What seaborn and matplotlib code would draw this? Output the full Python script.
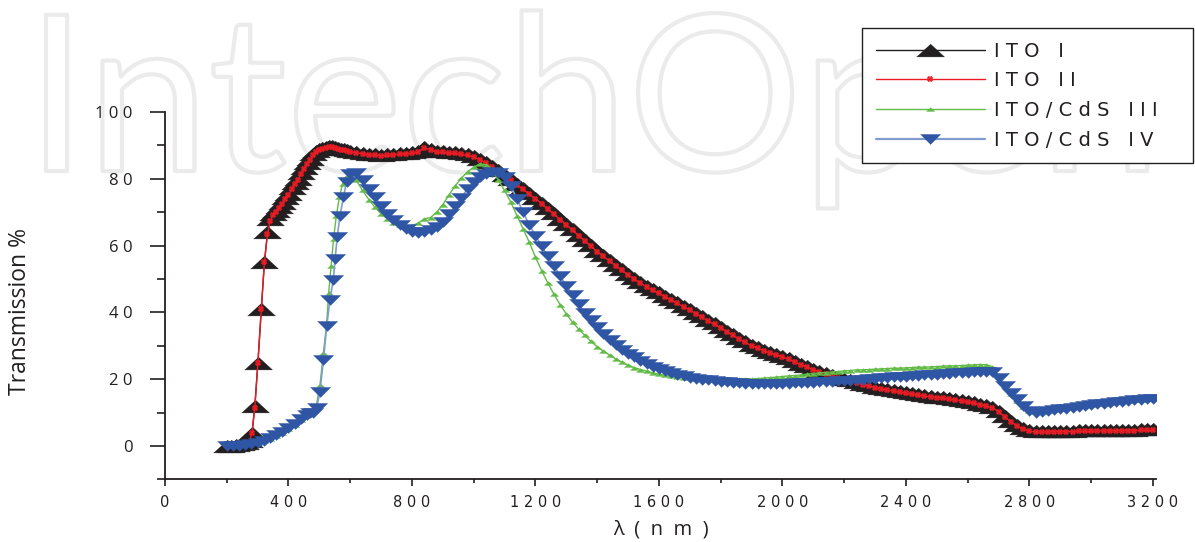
import numpy as np
import matplotlib
matplotlib.use("Agg")
import matplotlib.pyplot as plt
import matplotlib.patheffects as pe
from matplotlib.lines import Line2D
from matplotlib.ticker import MultipleLocator
import seaborn as sns

# ---- data: wavelength (nm) / transmission (%) ----
# common sampling from 600 nm upward
wl_grid = [600, 620, 640, 660, 680, 700, 720, 740, 760, 780, 800, 820, 840, 860, 880, 900, 920,
           940, 960, 980, 1000, 1020, 1040, 1060, 1080, 1100, 1120, 1140, 1160, 1180, 1200,
           1220, 1240, 1260, 1280, 1300, 1320, 1340, 1360, 1380, 1400, 1420, 1440, 1460, 1480,
           1500, 1520, 1540, 1560, 1580, 1600, 1620, 1640, 1660, 1680, 1700, 1720, 1740, 1760,
           1780, 1800, 1820, 1840, 1860, 1880, 1900, 1920, 1940, 1960, 1980, 2000, 2020, 2040,
           2060, 2080, 2100, 2120, 2140, 2160, 2180, 2200, 2220, 2240, 2260, 2280, 2300, 2320,
           2340, 2360, 2380, 2400, 2420, 2440, 2460, 2480, 2500, 2520, 2540, 2560, 2580, 2600,
           2620, 2640, 2660, 2680, 2700, 2720, 2740, 2760, 2780, 2800, 2820, 2840, 2860, 2880,
           2900, 2920, 2940, 2960, 2980, 3000, 3020, 3040, 3060, 3080, 3100, 3120, 3140, 3160,
           3180, 3200]

# ITO I
wl_ito1_uv = [200, 215, 230, 245, 260, 272, 282, 291, 301, 312, 322, 332, 341, 350, 360, 370,
              380, 390, 400, 410, 420, 430, 440, 450, 460, 470, 480, 490, 500, 510, 520, 530,
              540, 550, 560, 570, 580, 590]
t_ito1_uv = [0, 0, 0.3, 0.5, 0.8, 1.5, 4, 12, 25, 41, 55, 64, 68, 69.5, 70.5, 71.7, 72.8, 74.2,
             75.5, 77.2, 78.6, 80, 81.6, 83.2, 84.7, 86, 87.3, 88.2, 88.8, 89.3, 89.6, 89.8,
             89.8, 89.6, 89.3, 89, 88.8, 88.6]
t_ito1 = [88.4, 88.1, 87.8, 87.5, 87.3, 87.2, 87.3, 87.5, 87.7, 87.8, 87.9, 88.3, 89.6, 89.0,
          88.3, 88.2, 88.0, 87.9, 87.6, 87.3, 86.8, 86.0, 85.0, 83.8, 82.5, 81.0, 79.9, 78.5,
          77.1, 75.7, 74.4, 72.8, 71.2, 69.7, 68.1, 66.5, 64.9, 63.3, 61.7, 60.1, 58.5, 57.1,
          55.7, 54.3, 52.9, 51.5, 50.3, 49.1, 47.9, 46.9, 46.0, 45.0, 44.0, 43.0, 42.0, 41.0,
          39.9, 38.8, 37.7, 36.7, 35.6, 34.5, 33.4, 32.3, 31.3, 30.3, 29.5, 28.8, 28.2, 27.6,
          27.0, 26.2, 25.4, 24.6, 23.9, 23.2, 22.5, 21.9, 21.3, 20.7, 20.2, 19.7, 19.2, 18.7,
          18.3, 17.8, 17.4, 17.1, 16.7, 16.4, 16.1, 15.8, 15.5, 15.3, 15.0, 14.8, 14.6, 14.3,
          14.1, 13.8, 13.5, 13.1, 12.7, 12.3, 11.8, 10.6, 9.0, 7.6, 6.3, 5.3, 4.7, 4.5, 4.5,
          4.5, 4.6, 4.6, 4.6, 4.6, 4.7, 4.7, 4.7, 4.8, 4.8, 4.8, 4.9, 4.9, 4.9, 4.9, 5.0, 5.0,
          5.0]

# ITO II
wl_ito2_uv = [265, 272, 282, 291, 301, 312, 322, 332, 341, 350, 360, 370, 380, 390, 400, 410,
              420, 430, 440, 450, 460, 470, 480, 490, 500, 510, 520, 530, 540, 550, 560, 570,
              580, 590]
t_ito2_uv = [0.5, 1, 4, 11.5, 25, 41, 55, 63.5, 67.5, 69.2, 70.2, 71.4, 72.5, 73.9, 75.2, 76.9,
             78.3, 79.7, 81.3, 82.9, 84.4, 85.7, 87, 87.9, 88.5, 89, 89.3, 89.5, 89.5, 89.3,
             89, 88.7, 88.5, 88.3]
t_ito2 = [88.1, 87.8, 87.5, 87.2, 87.0, 86.9, 87.0, 87.2, 87.4, 87.5, 87.6, 88.0, 89.2, 88.7,
          88.0, 87.9, 87.7, 87.6, 87.3, 87.0, 86.5, 85.7, 84.7, 83.5, 82.2, 80.7, 79.6, 78.2,
          76.8, 75.4, 74.1, 72.5, 70.9, 69.4, 67.8, 66.2, 64.6, 63.0, 61.4, 59.8, 58.2, 56.8,
          55.4, 54.0, 52.6, 51.2, 50.0, 48.8, 47.6, 46.6, 45.7, 44.7, 43.7, 42.7, 41.7, 40.7,
          39.6, 38.5, 37.4, 36.4, 35.3, 34.2, 33.1, 32.0, 31.0, 30.0, 29.2, 28.5, 27.9, 27.3,
          26.7, 25.9, 25.1, 24.3, 23.6, 22.9, 22.2, 21.6, 21.0, 20.4, 19.9, 19.4, 18.9, 18.4,
          18.0, 17.5, 17.1, 16.8, 16.4, 16.1, 15.8, 15.5, 15.2, 15.0, 14.7, 14.5, 14.3, 14.0,
          13.8, 13.5, 13.2, 12.8, 12.4, 12.0, 11.5, 10.3, 8.7, 7.3, 6.0, 5.0, 4.4, 4.2, 4.2,
          4.2, 4.3, 4.3, 4.3, 4.3, 4.4, 4.4, 4.4, 4.5, 4.5, 4.5, 4.6, 4.6, 4.6, 4.6, 4.7, 4.7,
          4.7]

# ITO/CdS III
wl_cds3_uv = [300, 320, 340, 360, 380, 400, 420, 440, 460, 480, 490, 502, 513, 524, 530, 538,
              546, 555, 565, 575, 585, 595]
t_cds3_uv = [1, 1.5, 2.2, 3, 4, 5, 6.3, 7.7, 9.2, 10.5, 12, 18.3, 27.7, 37, 45.7, 54, 62, 69,
             74.5, 78.5, 80.5, 81]
t_cds3 = [80.9, 79.5, 76.5, 73.8, 71.5, 69.5, 68.0, 66.9, 66.2, 65.9, 66.0, 66.7, 68.0, 68.4,
          70.0, 72.3, 75.2, 77.9, 80.2, 82.1, 83.5, 84.5, 84.2, 82.3, 79.6, 76.5, 73.0, 69.0,
          65.0, 61.0, 56.5, 52.5, 48.8, 45.4, 42.3, 39.5, 37.1, 35.0, 33.1, 31.3, 29.7, 28.4,
          27.2, 26.1, 25.1, 24.2, 23.5, 22.9, 22.4, 21.9, 21.5, 21.2, 20.9, 20.7, 20.5, 20.3,
          20.2, 20.1, 20.0, 20.0, 20.0, 20.0, 20.0, 20.0, 20.1, 20.1, 20.2, 20.3, 20.5, 20.6,
          20.8, 21.0, 21.1, 21.3, 21.5, 21.7, 21.9, 22.0, 22.2, 22.3, 22.5, 22.6, 22.8, 22.8,
          22.9, 23.0, 23.1, 23.2, 23.3, 23.3, 23.4, 23.5, 23.6, 23.6, 23.7, 23.8, 23.9, 24.0,
          24.0, 24.1, 24.2, 24.3, 24.4, 24.3, 23.8, 21.0, 18.2, 15.7, 13.5, 11.7, 10.5, 10.2,
          10.3, 10.6, 10.9, 11.2, 11.4, 11.7, 11.9, 12.1, 12.3, 12.5, 12.7, 12.9, 13.1, 13.4,
          13.6, 13.7, 13.9, 14.0, 14.1]

# ITO/CdS IV
wl_cds4_uv = [200, 220, 240, 260, 280, 300, 320, 340, 360, 380, 400, 420, 440, 460, 470, 480,
              491, 502, 513, 524, 534, 545, 551, 558, 567, 578, 588]
t_cds4_uv = [0, 0, 0.1, 0.3, 0.6, 1, 1.6, 2.4, 3.3, 4.3, 5.5, 6.7, 8, 9.3, 9.8, 10, 11.3, 16.3,
             25.7, 36, 43.7, 49.7, 56, 62.7, 69, 74.5, 79]
t_cds4 = [81.5, 81.6, 79.6, 77.0, 74.5, 72.0, 69.6, 67.7, 66.2, 65.1, 64.2, 63.8, 64.0, 64.6,
          65.6, 67.0, 69.4, 71.8, 74.4, 77.0, 79.0, 80.6, 81.5, 81.9, 81.6, 80.5, 77.8, 74.0,
          70.0, 66.2, 63.0, 59.8, 56.9, 54.0, 50.8, 48.0, 45.2, 42.4, 39.8, 37.6, 35.5, 33.6,
          31.8, 30.2, 28.8, 27.5, 26.5, 25.5, 24.6, 23.8, 23.0, 22.4, 21.8, 21.3, 20.9, 20.5,
          20.2, 19.9, 19.7, 19.5, 19.3, 19.1, 18.9, 18.8, 18.7, 18.6, 18.5, 18.5, 18.5, 18.5,
          18.6, 18.7, 18.8, 18.8, 18.9, 19.0, 19.1, 19.2, 19.3, 19.4, 19.5, 19.6, 19.8, 19.9,
          20.0, 20.2, 20.3, 20.4, 20.6, 20.7, 20.8, 20.9, 21.1, 21.2, 21.3, 21.4, 21.5, 21.7,
          21.8, 21.9, 22.0, 22.1, 22.2, 22.2, 22.2, 20.5, 18.1, 16.0, 14.0, 12.1, 10.5, 10.0,
          10.1, 10.4, 10.7, 11.0, 11.2, 11.5, 11.7, 12.0, 12.2, 12.5, 12.7, 12.9, 13.1, 13.3,
          13.5, 13.7, 13.9, 14.0, 14.2]

series_labels = ["I T O   I", "I T O   I I", "I T O / C d S   I I I", "I T O / C d S   I V"]
x_ticks = [0, 400, 800, 1200, 1600, 2000, 2400, 2800, 3200]
x_tick_labels = ["0", "4 0 0", "8 0 0", "1 2 0 0", "1 6 0 0", "2 0 0 0", "2 4 0 0", "2 8 0 0",
                 "3 2 0 0"]
y_ticks = [0, 20, 40, 60, 80, 100]
y_tick_labels = ["0", "2 0", "4 0", "6 0", "8 0", "1 0 0"]

for t in (t_ito1, t_ito2, t_cds3, t_cds4):
    assert len(t) == len(wl_grid), len(t)

# ---- style ----
sns.set_style("ticks")
plt.rcParams["font.family"] = ["Open Sans", "DejaVu Sans"]

BLACK = "#231f20"
RED = "#ed1c24"
GREEN = "#62bb47"
BLUE = "#2f55a5"
BLUE_LINE = "#7f9bd0"

tri_up = np.array([(-1, -0.46), (1, -0.46), (0, 0.46)])
tri_down = np.array([(-1, 0.5), (1, 0.5), (0, -0.5)])

fig = plt.figure(figsize=(11.95, 5.42), dpi=100)
ax = fig.add_axes([165 / 1195, 1 - 479.4 / 542, 991 / 1195, 367.4 / 542])
ax.set_facecolor("none")

# faint watermark behind the plot
fig.text(26 / 1195, 1 - 171 / 542, "IntechOpen", fontsize=157, color="none",
         family=["Lato", "DejaVu Sans"], va="baseline", ha="left", zorder=-5,
         path_effects=[pe.Stroke(linewidth=3, foreground="#ebebeb")])

series = [
    (wl_ito1_uv + wl_grid, t_ito1_uv + t_ito1, BLACK, BLACK, tri_up, 20, 1.0),
    (wl_ito2_uv + wl_grid, t_ito2_uv + t_ito2, RED, RED, "X", 4, 1.0),
    (wl_cds3_uv + wl_grid, t_cds3_uv + t_cds3, GREEN, GREEN, tri_up, 6, 1.0),
    (wl_cds4_uv + wl_grid, t_cds4_uv + t_cds4, BLUE_LINE, BLUE, tri_down, 14.5, 1.2),
]
handles = []
for wl, tr, lc, mc, mk, ms, lw in series:
    sns.lineplot(x=wl, y=tr, ax=ax, color=lc, linewidth=lw, marker=mk, markersize=ms,
                 markerfacecolor=mc, markeredgecolor=mc, markeredgewidth=0.3,
                 estimator=None, sort=False, legend=False)
    handles.append(Line2D([], [], color=lc, lw=max(lw, 1.0) + (0.4 if mc == BLUE else 0),
                          marker=mk, markersize=ms, markerfacecolor=mc, markeredgecolor=mc,
                          markeredgewidth=0.3))

ax.set_xlim(0, 3210)
ax.set_ylim(-10, 100)
sns.despine(ax=ax)
for s in ["left", "bottom"]:
    ax.spines[s].set_linewidth(1.3)
    ax.spines[s].set_color(BLACK)

ax.set_xticks(x_ticks, x_tick_labels)
ax.set_yticks(y_ticks, y_tick_labels)
ax.xaxis.set_minor_locator(MultipleLocator(200))
ax.yaxis.set_minor_locator(MultipleLocator(10))
ax.tick_params(axis="y", which="major", length=10.5, width=1.2, color=BLACK, pad=13,
               labelsize=12, labelcolor=BLACK)
ax.tick_params(axis="y", which="minor", length=5.5, width=1.2, color=BLACK)
ax.tick_params(axis="x", which="major", length=5, width=1.2, color=BLACK, pad=6,
               labelsize=10.5, labelcolor=BLACK)
ax.tick_params(axis="x", which="minor", length=3, width=1.2, color=BLACK)
for lab in ax.get_xticklabels():
    lab.set_family(["DejaVu Sans"])

ax.set_xlabel("λ  (  n  m  )", fontsize=14.5, color=BLACK, labelpad=7)
ax.set_ylabel("Transmission %", fontsize=16.5, color=BLACK)
ax.yaxis.set_label_coords(-0.134, 0.458)

leg = fig.legend(handles, series_labels, loc="upper left",
                 bbox_to_anchor=(862 / 1195, 1 - 157 / 542, 331 / 1195, 129 / 542),
                 bbox_transform=fig.transFigure, mode="expand",
                 prop={"family": ["DejaVu Sans"], "size": 14}, frameon=True, fancybox=False,
                 shadow=False, framealpha=1, edgecolor=BLACK, handlelength=5.6,
                 handletextpad=0.5, borderpad=0.7, labelspacing=0.55, numpoints=1,
                 borderaxespad=0)
leg.get_frame().set_linewidth(1.0)
for t in leg.get_texts():
    t.set_color(BLACK)

fig.savefig("out.png", dpi=100)
